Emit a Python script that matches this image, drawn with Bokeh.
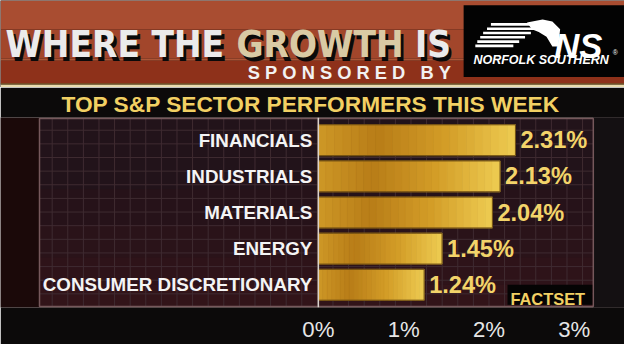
import numpy as np
from bokeh.plotting import figure
from bokeh.layouts import column
from bokeh.models import Range1d, FactorRange, FixedTicker, ColumnDataSource, Span
from bokeh.core.properties import value
from bokeh.embed import file_html
from bokeh.resources import INLINE

# ---------------- data ----------------
categories = ["FINANCIALS", "INDUSTRIALS", "MATERIALS", "ENERGY", "CONSUMER DISCRETIONARY"]
values = [2.31, 2.13, 2.04, 1.45, 1.24]
value_labels = ["2.31%", "2.13%", "2.04%", "1.45%", "1.24%"]
tick_values = [0, 1, 2, 3]
tick_labels = ["0%", "1%", "2%", "3%"]

title_left = "WHERE THE"
title_mid = "GROWTH"
title_right = "IS"
sponsor_text = "\u00a0".join("SPONSORED") + "\u00a0\u00a0\u00a0" + "\u00a0".join("BY")
logo_mark = "NS"
logo_name = "NORFOLK SOUTHERN"
subtitle = "TOP S&P SECTOR PERFORMERS THIS WEEK"
source_text = "FACTSET"

# ---------------- layout constants ----------------
W, H = 624, 344
REF_W, REF_H = 640, 360
HEAD_REF = 91
SY = H / REF_H
head_h = round(HEAD_REF * SY)
chart_h = H - head_h

SANS = "Liberation Sans"
HEAVY = "DejaVu Sans Condensed, Roboto, Liberation Sans"


def fs(px):
    return f"{px * 0.965:.1f}px"


# ---------------- header ----------------
head = figure(width=W, height=head_h, x_range=Range1d(0, REF_W), y_range=Range1d(HEAD_REF, 0),
              x_axis_location=None, y_axis_location=None, toolbar_location=None,
              output_backend="svg", min_border=0, outline_line_color=None,
              background_fill_color="#0c0a0a", border_fill_color="#0c0a0a")
head.xgrid.visible = False
head.ygrid.visible = False

head.quad(left=0, right=REF_W, top=0, bottom=30, fill_color="#a94d31", line_color=None)
head.quad(left=0, right=REF_W, top=30, bottom=61, fill_color="#a2462b", line_color=None)
head.quad(left=0, right=REF_W, top=61, bottom=63, fill_color="#ad5536", line_color=None)
head.quad(left=0, right=REF_W, top=63, bottom=87, fill_color="#8e311a", line_color=None)
head.quad(left=0, right=REF_W, top=86.5, bottom=88, fill_color="#7a5a2a", line_color=None)
head.quad(left=0, right=REF_W, top=88, bottom=90.5, fill_color="#eadcae", line_color=None)

# title with drop shadow
TITLE_FS = fs(38)
for dx, dy, cols in [(3, 4, ("#0a0a0a", "#0a0a0a", "#0a0a0a")),
                     (0, 0, ("#ebebeb", "#d9caa4", "#ebebeb"))]:
    head.text(x=[5 + dx], y=[46 + dy], text=[title_left], text_font=value(HEAVY),
              text_font_style="bold", text_font_size=TITLE_FS, text_color=cols[0],
              text_baseline="alphabetic", text_align="left")
    head.text(x=[242 + dx], y=[46 + dy], text=[title_mid], text_font=value(HEAVY),
              text_font_style="bold", text_font_size=TITLE_FS, text_color=cols[1],
              text_baseline="alphabetic", text_align="left")
    head.text(x=[462 + dx], y=[46 + dy], text=[title_right], text_font=value(HEAVY),
              text_font_style="bold", text_font_size=TITLE_FS, text_color=cols[2],
              text_baseline="alphabetic", text_align="right")

head.text(x=[462], y=[75], text=[sponsor_text], text_font=value(SANS), text_font_style="bold",
          text_font_size=fs(19), text_color="#f2f2f2", text_baseline="alphabetic",
          text_align="right")

# sponsor logo box
head.quad(left=475, right=REF_W, top=5, bottom=80, fill_color="#030303", line_color=None)
stripe_y = [25, 29.5, 34, 38.5, 43, 47.5]
stripe_x0 = [503, 499, 495, 492, 489, 487]
stripe_x1 = [552, 548, 544, 538, 532, 526]
head.segment(x0=stripe_x0, y0=stripe_y, x1=stripe_x1, y1=stripe_y, line_color="white",
             line_width=2.6)
head.patch(x=[540, 556, 566, 574, 572, 566, 560, 552, 545],
           y=[23, 20, 22, 30, 48, 48, 38, 33, 30], fill_color="white", line_color=None)
head.text(x=[568], y=[48], text=[logo_mark], text_font=value(SANS), text_font_style="bold italic",
          text_font_size=fs(36), text_color="white", text_baseline="alphabetic",
          text_align="left")
head.text(x=[485], y=[62], text=[logo_name], text_font=value(SANS), text_font_style="bold italic",
          text_font_size=fs(13), text_color="white", text_baseline="alphabetic",
          text_align="left")
head.text(x=[628], y=[54], text=["\u00ae"], text_font=value(SANS), text_font_size=fs(7),
          text_color="white", text_baseline="alphabetic", text_align="left")

# ---------------- chart ----------------
X_ORIGIN_REF, PX_PER_PCT = 326, 87.5
PANEL_L, PANEL_R, FRAME_T, FRAME_B = 40, 608, 121, 330
ROW_PX = 39.75
xr = Range1d(-X_ORIGIN_REF / PX_PER_PCT, (REF_W - X_ORIGIN_REF) / PX_PER_PCT)
PAD = 0.0516
yr = FactorRange(factors=categories[::-1], range_padding=PAD)
SYN_TOP = len(categories) * (1 + PAD / 2)


def syn(yref):
    """reference-pixel row position -> synthetic categorical coordinate"""
    return SYN_TOP - (yref - FRAME_T) / ROW_PX


frame_h = round((FRAME_B - FRAME_T) * SY)
bottom_h = 28
top_h = chart_h - frame_h - bottom_h

chart = figure(width=W, height=chart_h, x_range=xr, y_range=yr, y_axis_location=None,
               toolbar_location=None, output_backend="svg", title=subtitle,
               min_border_left=0, min_border_right=0, min_border_top=top_h,
               min_border_bottom=bottom_h,
               background_fill_color="#1b0909", border_fill_color="#0c0a0a",
               outline_line_color=None)
chart.title.text_font = SANS
chart.title.text_font_style = "bold"
chart.title.text_font_size = fs(23.5)
chart.title.text_color = "#f2d063"
chart.title.align = "left"
chart.title.offset = 61
chart.title.standoff = 2

chart.extra_x_ranges = {"px": Range1d(0, REF_W)}
chart.xgrid.visible = False
chart.ygrid.visible = False

# right side of the screen is greyer than the left
chart.quad(left=PANEL_R, right=REF_W, top=syn(FRAME_T - 2), bottom=syn(FRAME_B + 2),
           x_range_name="px", fill_color="#141012", line_color=None)

# panel with a reddish tint towards the bottom and a fine grid
chart.quad(left=PANEL_L, right=PANEL_R, top=syn(FRAME_T + 1), bottom=syn(FRAME_B - 1),
           x_range_name="px", fill_color="#22131a", line_color=None)
for k, (t0, t1) in enumerate([(200, 240), (240, 275), (275, 305), (305, 330)]):
    chart.quad(left=PANEL_L, right=PANEL_R, top=syn(t0), bottom=syn(min(t1, FRAME_B - 1)),
               x_range_name="px", fill_color="#6a1818", fill_alpha=0.06 * (k + 1),
               line_color=None)
gx = list(np.arange(PANEL_L + 13, PANEL_R, 16))
chart.segment(x0=gx, x1=gx, y0=syn(FRAME_T + 1), y1=syn(FRAME_B - 1), x_range_name="px",
              line_color="#3f2b31", line_width=1)
gy = [syn(v) for v in np.arange(FRAME_T + 14, FRAME_B, 15)]
chart.segment(x0=PANEL_L, x1=PANEL_R, y0=gy, y1=gy, x_range_name="px",
              line_color="#3f2b31", line_width=1)
chart.quad(left=PANEL_L, right=PANEL_R, top=syn(FRAME_T + 1), bottom=syn(FRAME_B - 1),
           x_range_name="px", fill_color=None, line_color="#76585b", line_width=1.5)

# gold gradient bars, built as slices of each bar
stops_t = [0.0, 0.3, 0.65, 1.0]
stops_c = [(206, 152, 38), (184, 125, 24), (212, 158, 40), (238, 204, 82)]
N = 24
sl_y, sl_l, sl_r, sl_c = [], [], [], []
for cat, v in zip(categories, values):
    for k in range(N):
        tm = (k + 0.5) / N
        rgb = [int(np.interp(tm, stops_t, [c[i] for c in stops_c])) for i in range(3)]
        sl_y.append(cat)
        sl_l.append(v * k / N)
        sl_r.append(v * (k + 1) / N)
        sl_c.append("#%02x%02x%02x" % tuple(rgb))
src = ColumnDataSource(dict(y=sl_y, left=sl_l, right=sl_r, color=sl_c))
BAR_H = 0.855
chart.hbar(y="y", left="left", right="right", height=BAR_H, source=src,
           fill_color="color", line_color="color", line_width=0.8)
chart.hbar(y=categories, left=0, right=values, height=BAR_H, fill_color=None,
           line_color="#6b4b12", line_width=1)

chart.add_layout(Span(location=0, dimension="height", line_color="#d9d2cc", line_width=1.5))

chart.text(x=0, y=categories, text=categories, x_offset=-6, text_font=value(SANS),
           text_font_style="bold", text_font_size=fs(19.5), text_color="#f4f4f4",
           text_baseline="middle", text_align="right")
chart.text(x=values, y=categories, text=value_labels, x_offset=5, text_font=value(SANS),
           text_font_style="bold", text_font_size=fs(24.5), text_color="#f3d46a",
           text_baseline="middle", text_align="left")

chart.quad(left=520, right=PANEL_R - 1, top=syn(305), bottom=syn(327), x_range_name="px",
           fill_color="#050404", line_color=None)
chart.text(x=[523], y=[syn(321)], text=[source_text], x_range_name="px",
           text_font=value(SANS), text_font_style="bold", text_font_size=fs(17),
           text_color="#f2d063", text_baseline="alphabetic", text_align="left")

ax = chart.xaxis[0]
ax.ticker = FixedTicker(ticks=tick_values)
ax.major_label_overrides = dict(zip(tick_values, tick_labels))
ax.axis_line_color = None
ax.major_tick_line_color = None
ax.minor_tick_line_color = None
ax.major_label_standoff = 3
ax.major_label_text_font = SANS
ax.major_label_text_font_size = fs(23)
ax.major_label_text_color = "#e6e6e6"

layout = column(head, chart, spacing=0)
open("out.html", "w").write(file_html(layout, INLINE))
